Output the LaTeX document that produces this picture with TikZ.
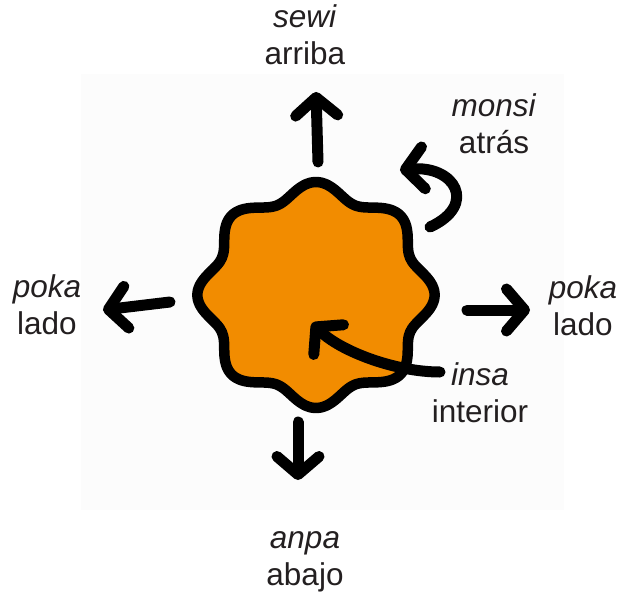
\documentclass[tikz,border=0pt]{standalone}
\usepackage{fontspec}
\setmainfont{Liberation Sans}
\usetikzlibrary{arrows.meta}

\definecolor{blobfill}{RGB}{242,140,0}
\definecolor{inkgray}{RGB}{35,31,32}

\begin{document}
\begin{tikzpicture}[
    x=1pt, y=-1pt,
    >={Straight Barb[length=18pt,width=42pt,round]},
    word/.style={
        align=center,
        inner sep=0pt,
        anchor=base,
        text=inkgray,
        font=\fontsize{31.5}{37}\selectfont
    },
    arrow/.style={->, line width=11pt, line cap=round},
    blob/.style={line width=10.5pt, line join=round, fill=blobfill}
]

\useasboundingbox (0,0) rectangle (624,594);
\fill[black!1] (81,74) rectangle (564,510);

% Shape
\draw[blob] plot[domain=0:357.5, samples=144, smooth cycle]
    ({316 + 1.05*(105+8*cos(8*\x))*cos(\x)}, {295 - (105+8*cos(8*\x))*sin(\x)});

% Labels
\node[word] (sewi)  at (305,65)  {\textit{sewi}\\arriba};
\node[word] (monsi) at (494,153) {\textit{monsi}\\atrás};
\node[word] (pokaL) at (47,334)  {\textit{poka}\\lado};
\node[word] (pokaR) at (583,335) {\textit{poka}\\lado};
\node[word] (insa)  at (480,422) {\textit{insa}\\interior};
\node[word] (anpa)  at (305,585) {\textit{anpa}\\abajo};

% Arrow ends
\coordinate (upS) at (318,162);   \coordinate (upE) at (316,92);
\coordinate (leftS) at (170,302); \coordinate (leftE) at (103,310);
\coordinate (rightS) at (467,310); \coordinate (rightE) at (530,310);
\coordinate (downS) at (298,422); \coordinate (downE) at (298,480);
\coordinate (backS) at (430,227); \coordinate (backE) at (400,170);
\coordinate (inS) at (440,372);   \coordinate (inE) at (312,323);

% Arrows
\draw[arrow] (upS) -- (upE);
\draw[arrow] (leftS) -- (leftE);
\draw[arrow] (rightS) -- (rightE);
\draw[arrow] (downS) -- (downE);
\draw[arrow] (backS) .. controls (478,205) and (455,165) .. (backE);
\draw[arrow] (inS) .. controls (395,372) and (340,351) .. (inE);

\end{tikzpicture}
\end{document}
